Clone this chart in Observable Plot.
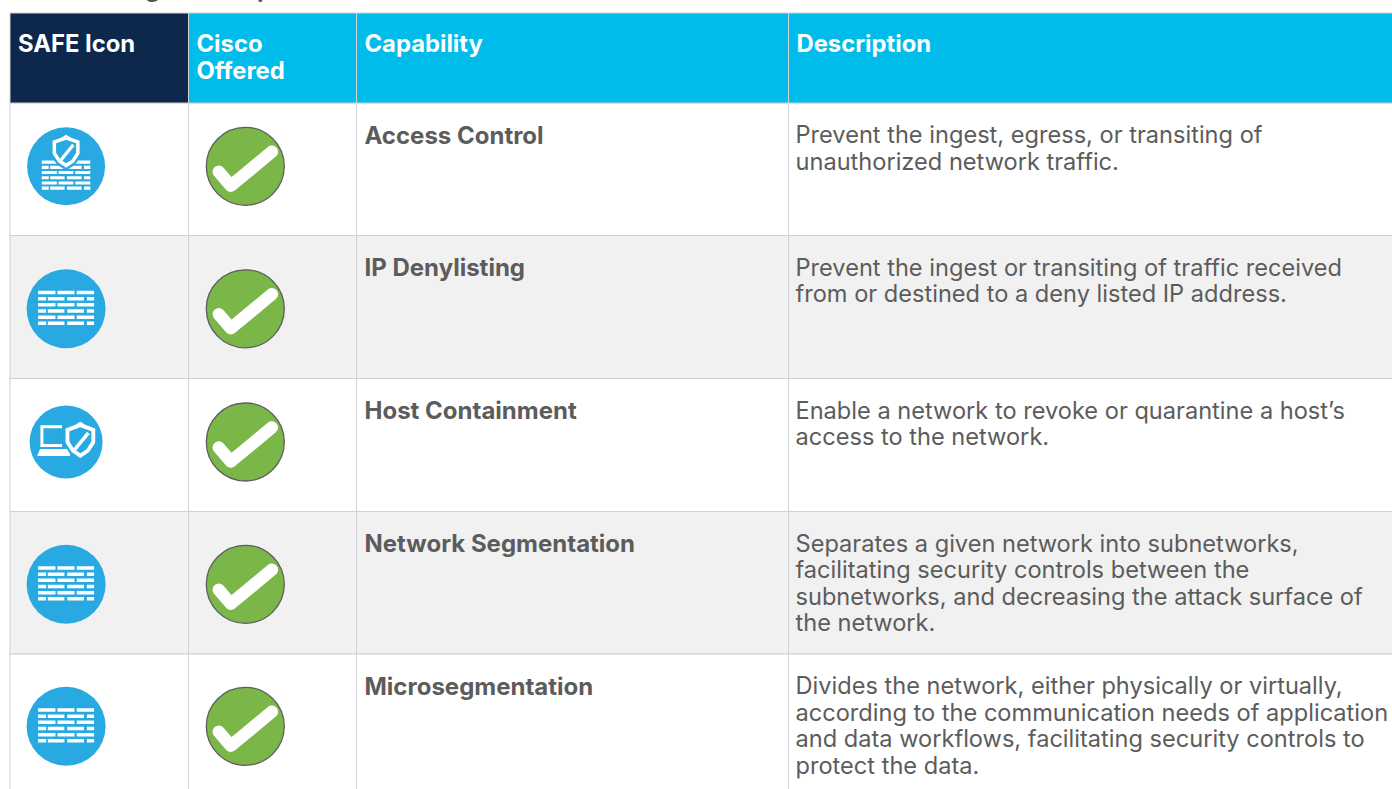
<!DOCTYPE html>
<html><head><meta charset="utf-8">
<script src="https://cdn.jsdelivr.net/npm/d3@7"></script>
<script src="https://cdn.jsdelivr.net/npm/@observablehq/plot@0.6"></script>
<style>html,body{margin:0;padding:0;background:#fff;overflow:hidden}svg{display:block}</style>
</head><body><div id="chart"></div>
<script>
const headers = ["SAFE Icon", "Cisco\nOffered", "Capability", "Description"];
const capabilities = ["Access Control", "IP Denylisting", "Host Containment", "Network Segmentation", "Microsegmentation"];
const descriptions = [
  "Prevent the ingest, egress, or transiting of\nunauthorized network traffic.",
  "Prevent the ingest or transiting of traffic received\nfrom or destined to a deny listed IP address.",
  "Enable a network to revoke or quarantine a host’s\naccess to the network.",
  "Separates a given network into subnetworks,\nfacilitating security controls between the\nsubnetworks, and decreasing the attack surface of\nthe network.",
  "Divides the network, either physically or virtually,\naccording to the communication needs of application\nand data workflows, facilitating security controls to\nprotect the data."
];
const icons = ["wallShield", "wall", "hostShield", "wall", "wall"];
const croppedTitleGlyphs = ["g", "p"];
const croppedTitleX = [152, 264];
const colEdges = [10, 188.5, 356.5, 788.5, 1400];
const rowEdges = [13, 103, 235.5, 378.5, 511.5, 654, 800];
const rowCentres = [165.8, 308.3, 441.5, 583.8, 725.8];
const iconX = 65.6, checkX = 244.8;
const iconRadii = {wall:39.5, wallShield:39, hostShield:36.5};

function rectTo(c,x,y,w,h){c.moveTo(x,y);c.lineTo(x+w,y);c.lineTo(x+w,y+h);c.lineTo(x,y+h);c.closePath();}
function unit(size){return Math.sqrt(size/Math.PI)/39;}
const symbolCheck = {draw(c,size){const k=unit(size);
  c.moveTo(-26.5*k,5.5*k);c.lineTo(-14.5*k,19.5*k);c.lineTo(26.5*k,-14.5*k);}};
function bricks(c,k,x0,y0,w,rows,h,gap){
  for(let i=0;i<rows;i++){const y=y0+i*gap;
    const segs=i%2?[[0,.143],[.173,.47],[.52,.82],[.87,1]]:[[0,.31],[.345,.65],[.69,1]];
    for(const [a,b] of segs) rectTo(c,(x0+a*w)*k,y*k,(b-a)*w*k,h*k);}
}
function shieldOuter(c,k,cx,cy,s){
  c.moveTo((cx-13.5*s)*k,(cy-11*s)*k);
  c.lineTo((cx-5*s)*k,(cy-14*s)*k);c.lineTo((cx)*k,(cy-17*s)*k);c.lineTo((cx+5*s)*k,(cy-14*s)*k);c.lineTo((cx+13.5*s)*k,(cy-11*s)*k);
  c.lineTo((cx+13.5*s)*k,(cy+2*s)*k);c.lineTo((cx+8*s)*k,(cy+10.5*s)*k);c.lineTo(cx*k,(cy+16*s)*k);
  c.lineTo((cx-8*s)*k,(cy+10.5*s)*k);c.lineTo((cx-13.5*s)*k,(cy+2*s)*k);c.closePath();
}
function shieldInner(c,k,cx,cy,s){
  c.moveTo((cx-10*s)*k,(cy-8.5*s)*k);c.lineTo((cx-10*s)*k,(cy+1*s)*k);c.lineTo((cx-5.5*s)*k,(cy+8*s)*k);c.lineTo(cx*k,(cy+11.5*s)*k);
  c.lineTo((cx+5.5*s)*k,(cy+8*s)*k);c.lineTo((cx+10*s)*k,(cy+1*s)*k);c.lineTo((cx+10*s)*k,(cy-8.5*s)*k);c.lineTo(cx*k,(cy-12*s)*k);c.closePath();
}
function slash(c,k,cx,cy,s){
  c.moveTo((cx-7*s)*k,(cy+8*s)*k);c.lineTo((cx+6*s)*k,(cy-8*s)*k);c.lineTo((cx+8.5*s)*k,(cy-6*s)*k);c.lineTo((cx-4.5*s)*k,(cy+10*s)*k);c.closePath();
}
const symbolWall={draw(c,size){bricks(c,unit(size),-28,-18,56,6,3.5,6.15);}};
const symbolWallSmall={draw(c,size){bricks(c,unit(size),-24.3,-5.7,48.5,6,3.1,5.2);}};
const symbolShieldBack={draw(c,size){const k=unit(size);shieldOuter(c,k,0,-14.5,1.18);}};
const symbolShieldLarge={draw(c,size){const k=unit(size);
  shieldOuter(c,k,0,-14.5,1);shieldInner(c,k,0,-14.5,1);slash(c,k,0,-14.5,1);}};
const symbolHost={draw(c,size){const k=unit(size);
  rectTo(c,-25.7*k,-16.7*k,21.7*k,3*k);rectTo(c,-25.7*k,-16.7*k,3*k,21.7*k);rectTo(c,-25.7*k,2*k,21.7*k,3*k);
  c.moveTo(-26*k,7*k);c.lineTo(4*k,7*k);c.lineTo(4*k,14*k);c.lineTo(-29*k,14*k);c.closePath();}};
const symbolHostShieldBack={draw(c,size){const k=unit(size);shieldOuter(c,k,14.3,-1.5,1.28);}};
const symbolHostShield={draw(c,size){const k=unit(size);
  shieldOuter(c,k,14.3,-1.5,1.1);shieldInner(c,k,14.3,-1.5,1.1);slash(c,k,14.3,-1.5,1.1);}};

const rows = capabilities.map((capability,i)=>({capability,description:descriptions[i],icon:icons[i],
  y1:rowEdges[i+1],y2:rowEdges[i+2],iconX,checkX,cy:rowCentres[i],shade:i%2===1}));
const headCells = headers.map((label,i)=>({label,x1:colEdges[i],x2:colEdges[i+1],fill:i===0?"#0d274d":"#00bceb"}));
const bodyCells = rows.flatMap(r=>colEdges.slice(0,4).map((x,i)=>({x1:x,x2:colEdges[i+1],y1:r.y1,y2:r.y2,shade:r.shade})));
const titleBits = croppedTitleGlyphs.map((t,i)=>({t,x:croppedTitleX[i]}));
const FONT = "Inter, 'Open Sans', sans-serif";
const R = 39;
const ofIcon = name => rows.filter(d=>d.icon===name);

const plot = Plot.plot({
  width:1392,height:789,margin:0,
  style:{background:"#fff",fontFamily:FONT},
  x:{type:"linear",domain:[0,1392],range:[0,1392],axis:null},
  y:{type:"linear",domain:[0,789],range:[0,789],axis:null},
  r:{type:"identity"},
  marks:[
    Plot.text(titleBits,{x:"x",y:()=>-4,text:"t",textAnchor:"middle",lineAnchor:"bottom",fill:"#555",fontWeight:700,fontSize:24,fontFamily:FONT}),
    Plot.rect(bodyCells,{x1:"x1",x2:"x2",y1:"y1",y2:"y2",fill:d=>d.shade?"#f1f1f1":"#ffffff",stroke:"#d2d2d2",strokeWidth:1}),
    Plot.rect(headCells,{x1:"x1",x2:"x2",y1:()=>rowEdges[0],y2:()=>rowEdges[1],fill:"fill",stroke:"#d2d2d2",strokeWidth:1}),
    Plot.text(headCells,{x:d=>d.x1+7.5,y:()=>rowEdges[0]+19.5,text:"label",textAnchor:"start",lineAnchor:"top",fill:"#fff",fontWeight:700,fontSize:23.8,lineHeight:1.13,fontFamily:FONT}),
    Plot.text(rows,{x:()=>colEdges[2]+7.5,y:d=>d.y1+23,text:"capability",textAnchor:"start",lineAnchor:"top",fill:"#5c5c5c",fontWeight:700,fontSize:24,fontFamily:FONT}),
    Plot.text(rows,{x:()=>colEdges[3]+6.5,y:d=>d.y1+20.7,text:"description",textAnchor:"start",lineAnchor:"top",fill:"#5c5c5c",fontSize:23.6,lineHeight:1.125,fontFamily:FONT}),
    Plot.dot(rows,{x:"iconX",y:"cy",r:d=>iconRadii[d.icon],fill:"#29a9e1"}),
    Plot.dot(ofIcon("wall"),{x:"iconX",y:"cy",r:R,fill:"#fff",symbol:symbolWall}),
    Plot.dot(ofIcon("wallShield"),{x:"iconX",y:"cy",r:R,fill:"#fff",symbol:symbolWallSmall}),
    Plot.dot(ofIcon("wallShield"),{x:"iconX",y:"cy",r:R,fill:"#29a9e1",symbol:symbolShieldBack}),
    Plot.dot(ofIcon("wallShield"),{x:"iconX",y:"cy",r:R,fill:"#fff",symbol:symbolShieldLarge}),
    Plot.dot(ofIcon("hostShield"),{x:"iconX",y:"cy",r:R,fill:"#fff",symbol:symbolHost}),
    Plot.dot(ofIcon("hostShield"),{x:"iconX",y:"cy",r:R,fill:"#29a9e1",symbol:symbolHostShieldBack}),
    Plot.dot(ofIcon("hostShield"),{x:"iconX",y:"cy",r:R,fill:"#fff",symbol:symbolHostShield}),
    Plot.dot(rows,{x:"checkX",y:"cy",r:R,fill:"#7ab648",stroke:"#5e5e5e",strokeWidth:1.3}),
    Plot.dot(rows,{x:"checkX",y:"cy",r:R,fill:"none",stroke:"#fff",strokeWidth:12.5,strokeLinecap:"round",strokeLinejoin:"round",symbol:symbolCheck})
  ]
});
document.getElementById("chart").appendChild(plot);
</script></body></html>
